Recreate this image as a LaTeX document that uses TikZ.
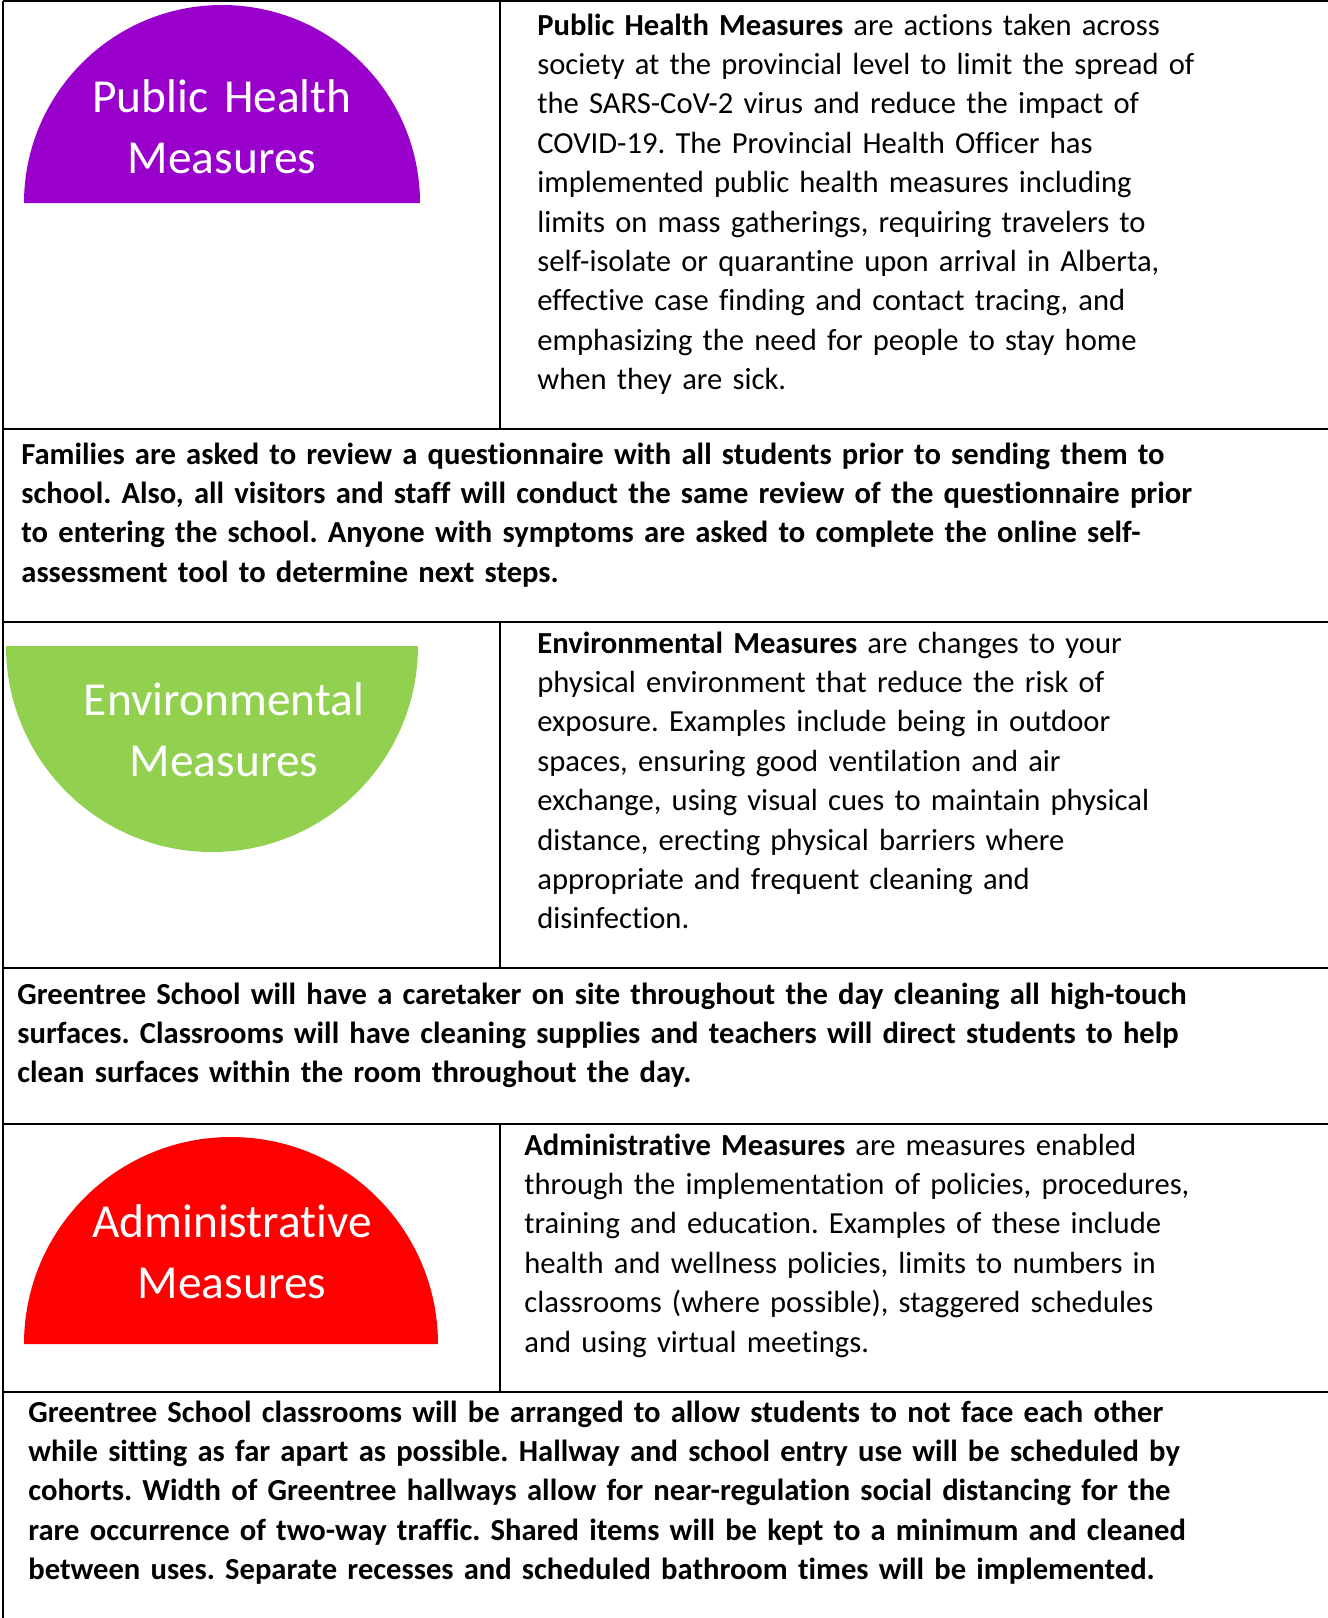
\documentclass[tikz,border=0pt]{standalone}
\usepackage{fontspec}
\setmainfont{Carlito}[Ligatures={NoCommon}]
\usetikzlibrary{positioning}
\definecolor{phmpurple}{HTML}{9900CC}
\definecolor{envgreen}{HTML}{92D050}
\definecolor{admred}{HTML}{FF0000}
\frenchspacing
\begin{document}
\begin{tikzpicture}
	[x=0.5pt,y=-0.5pt,
	rule/.style={line width=1.3pt},
	lbl/.style={text=white,align=center,text width=220pt,inner sep=0pt,anchor=base,font=\fontsize{23.7}{30.8}\selectfont},
	body/.style={align=left,text width=420pt,inner sep=0pt,anchor=base west,font=\fontsize{15.3}{19.7}\selectfont},
	note/.style={body,text width=640pt,font=\fontsize{15.3}{19.7}\selectfont\bfseries}]
	\useasboundingbox (0,0) rectangle (1328,1618);
	\fill[phmpurple] (24,203) arc[start angle=180,end angle=360,radius=198] -- cycle;
	\fill[envgreen] (6,646) arc[start angle=180,end angle=0,radius=206] -- cycle;
	\fill[admred] (24,1344) arc[start angle=180,end angle=360,radius=207] -- cycle;
	\draw[rule] (3,1) -- (1328,1);
	\draw[rule] (3,1) -- (3,1618);
	\foreach \y in {429,622,968,1124,1392}
		\draw[rule] (3,\y) -- (1328,\y);
	\draw[rule] (500,1) -- (500,429);
	\draw[rule] (500,622) -- (500,968);
	\draw[rule] (500,1124) -- (500,1392);
	\node[lbl] (phmlbl) at (222,112) {Public Health\\Measures};
	\node[lbl] (envlbl) at (224,715) {Environmental\\Measures};
	\node[lbl] (admlbl) at (232,1237) {Administrative\\Measures};
	\node[body] (phmtxt) at (537,35) {\textbf{Public Health Measures} are actions taken across\\
		society at the provincial level to limit the spread of\\
		the SARS-CoV-2 virus and reduce the impact of\\
		COVID-19. The Provincial Health Officer has\\
		implemented public health measures including\\
		limits on mass gatherings, requiring travelers to\\
		self-isolate or quarantine upon arrival in Alberta,\\
		effective case finding and contact tracing, and\\
		emphasizing the need for people to stay home\\
		when they are sick.};
	\node[note] (famtxt) at (21,464) {Families are asked to review a questionnaire with all students prior to sending them to\\
		school. Also, all visitors and staff will conduct the same review of the questionnaire prior\\
		to entering the school. Anyone with symptoms are asked to complete the online self-\\
		assessment tool to determine next steps.};
	\node[body] (envtxt) at (537,653) {\textbf{Environmental Measures} are changes to your\\
		physical environment that reduce the risk of\\
		exposure. Examples include being in outdoor\\
		spaces, ensuring good ventilation and air\\
		exchange, using visual cues to maintain physical\\
		distance, erecting physical barriers where\\
		appropriate and frequent cleaning and\\
		disinfection.};
	\node[note] (cleantxt) at (17,1004) {Greentree School will have a caretaker on site throughout the day cleaning all high-touch\\
		surfaces. Classrooms will have cleaning supplies and teachers will direct students to help\\
		clean surfaces within the room throughout the day.};
	\node[body] (admtxt) at (524,1155) {\textbf{Administrative Measures} are measures enabled\\
		through the implementation of policies, procedures,\\
		training and education. Examples of these include\\
		health and wellness policies, limits to numbers in\\
		classrooms (where possible), staggered schedules\\
		and using virtual meetings.};
	\node[note] (roomtxt) at (28,1422) {Greentree School classrooms will be arranged to allow students to not face each other\\
		while sitting as far apart as possible. Hallway and school entry use will be scheduled by\\
		cohorts. Width of Greentree hallways allow for near-regulation social distancing for the\\
		rare occurrence of two-way traffic. Shared items will be kept to a minimum and cleaned\\
		between uses. Separate recesses and scheduled bathroom times will be implemented.};
\end{tikzpicture}
\end{document}
